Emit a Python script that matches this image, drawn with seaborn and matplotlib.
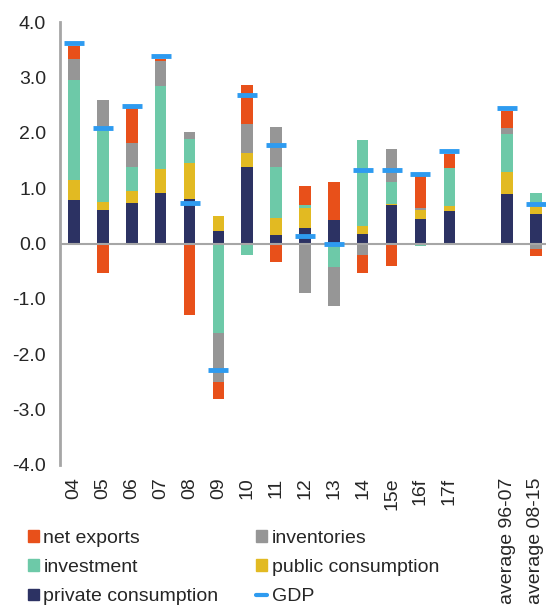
import numpy as np
import seaborn as sns
import matplotlib.pyplot as plt
from matplotlib.patches import Patch
from matplotlib.lines import Line2D

# ==================== 数据 ====================
categories = ["04", "05", "06", "07", "08", "09", "10", "11", "12", "13",
              "14", "15e", "16f", "17f", "average 96-07", "average 08-15"]
positions = [0, 1, 2, 3, 4, 5, 6, 7, 8, 9, 10, 11, 12, 13, 15, 16]

private_consumption = [0.79, 0.61, 0.73, 0.92, 0.80, 0.23, 1.39, 0.16, 0.28, 0.43,
                       0.17, 0.70, 0.44, 0.59, 0.90, 0.53]
public_consumption = [0.36, 0.14, 0.21, 0.42, 0.65, 0.26, 0.24, 0.30, 0.37, 0.00,
                      0.15, 0.02, 0.17, 0.08, 0.39, 0.14]
investment = [1.81, 1.32, 0.44, 1.51, 0.44, -1.61, -0.20, 0.92, 0.05, -0.42,
              1.55, 0.39, -0.05, 0.70, 0.69, 0.24]
inventories = [0.38, 0.53, 0.44, 0.44, 0.13, -0.90, 0.53, 0.72, -0.90, -0.70,
               -0.20, 0.59, 0.04, 0.00, 0.10, -0.10]
net_exports = [0.23, -0.53, 0.63, 0.05, -1.30, -0.29, 0.71, -0.33, 0.33, 0.68,
               -0.34, -0.40, 0.57, 0.25, 0.32, -0.12]
gdp = [3.62, 2.08, 2.48, 3.39, 0.73, -2.29, 2.68, 1.78, 0.14, 0.00,
       1.33, 1.32, 1.26, 1.67, 2.44, 0.71]

components = [
    ("private consumption", private_consumption, "#2c3263"),
    ("public consumption", public_consumption, "#e2ba22"),
    ("investment", investment, "#6dc9a8"),
    ("inventories", inventories, "#969696"),
    ("net exports", net_exports, "#e8501a"),
]
gdp_color = "#2e9bf0"

# ==================== 绘图 ====================
sns.set_style("white")
plt.rcParams['font.family'] = ['Liberation Sans', 'DejaVu Sans']

fig = plt.figure(figsize=(5.46, 6.08), dpi=100)
ax = fig.add_axes([0.110, 0.2352, 0.890, 0.7286])

x = np.array(positions, dtype=float)
pos_bottom = np.zeros(len(x))
neg_bottom = np.zeros(len(x))
for name, vals, col in components:
    v = np.array(vals)
    bottom = np.where(v >= 0, pos_bottom, neg_bottom)
    sns.barplot(x=x, y=v, bottom=bottom, native_scale=True, width=0.4,
                color=col, saturation=1, errorbar=None, linewidth=0, ax=ax)
    pos_bottom += np.clip(v, 0, None)
    neg_bottom += np.clip(v, None, 0)

sns.scatterplot(x=x, y=gdp, marker="_", s=210, color=gdp_color,
                linewidth=3.5, ax=ax, zorder=5)

ax.axhline(0, color="#a6a6a6", lw=1.5, zorder=1)
ax.set_xlim(-0.485, 16.35)
ax.set_ylim(-4, 4)
ax.set_yticks(np.arange(-4, 4.1, 1.0))
ax.set_yticklabels([f"{t:.1f}" for t in np.arange(-4, 4.1, 1.0)], fontsize=14)
ax.set_xticks(positions)
ax.set_xticklabels(categories, rotation=90, fontsize=14, va="top")
ax.tick_params(axis="y", length=0, pad=10)
ax.tick_params(axis="x", length=0, pad=9)
ax.set_xlabel("")
ax.set_ylabel("")

for s in ["top", "right", "bottom"]:
    ax.spines[s].set_visible(False)
ax.spines["left"].set_color("#a6a6a6")
ax.spines["left"].set_linewidth(2)

handles = [
    Patch(color="#e8501a"), Patch(color="#6dc9a8"), Patch(color="#2c3263"),
    Patch(color="#969696"), Patch(color="#e2ba22"),
    Line2D([], [], color=gdp_color, lw=3),
]
labels = ["net exports", "investment", "private consumption",
          "inventories", "public consumption", "GDP"]
fig.legend(handles, labels, loc="upper left", bbox_to_anchor=(0.051, 0.129),
           ncol=2, frameon=False, fontsize=14, handlelength=0.55,
           handleheight=0.55, handletextpad=0.25, labelspacing=0.64,
           columnspacing=1.95, borderaxespad=0, borderpad=0)

plt.savefig("out.png", dpi=100)
